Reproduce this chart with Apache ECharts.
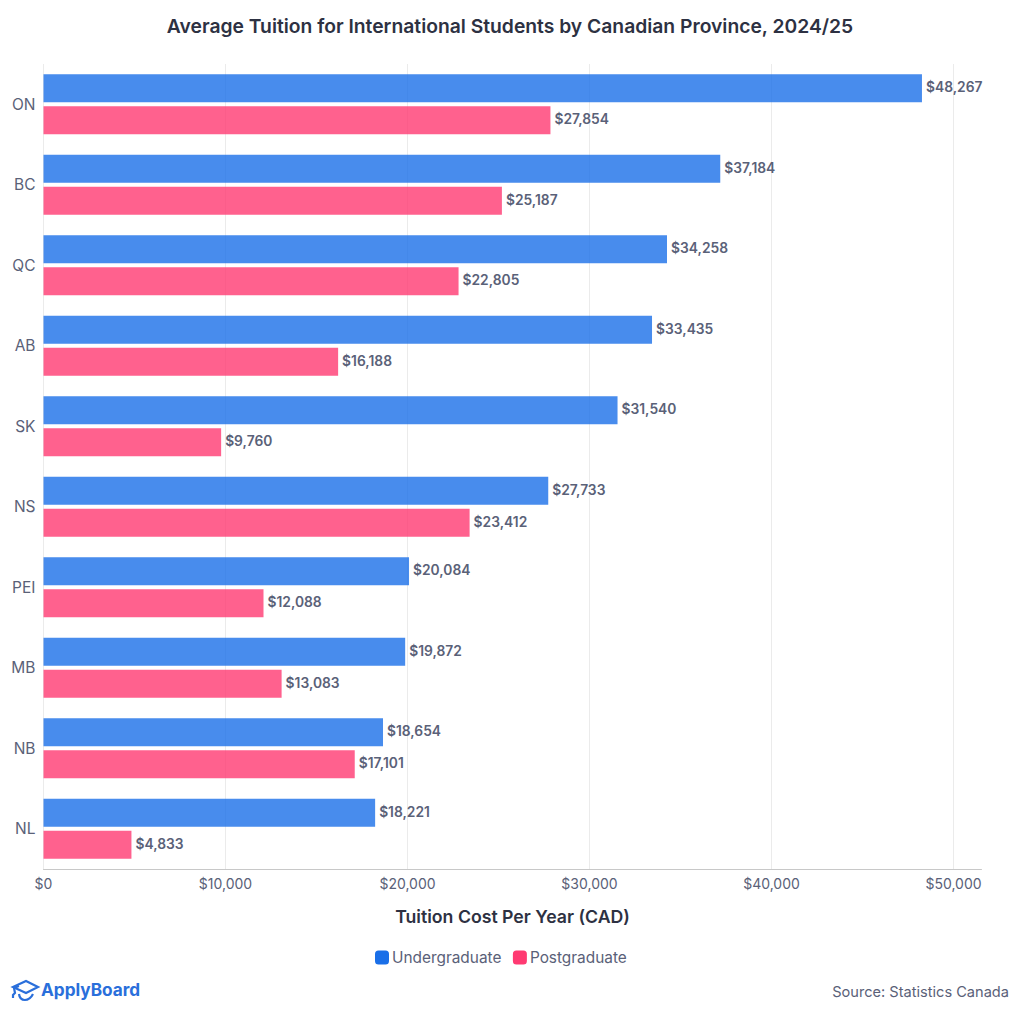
<!DOCTYPE html>
<html><head><meta charset="utf-8">
<style>html,body{margin:0;padding:0;background:#fff}#c{width:1020px;height:1014px}</style>
<script src="https://cdn.jsdelivr.net/npm/echarts@6/dist/echarts.min.js"></script>
</head><body><div id="c"></div>
<script>
const categories = ['ON','BC','QC','AB','SK','NS','PEI','MB','NB','NL'];
const undergraduate = [48267,37184,34258,33435,31540,27733,20084,19872,18654,18221];
const postgraduate = [27854,25187,22805,16188,9760,23412,12088,13083,17101,4833];
const FONT = 'Inter, "Open Sans", sans-serif';
const money = v => '$' + Number(v).toLocaleString('en-US');
const chart = echarts.init(document.getElementById('c'), null, {renderer:'svg'});
const label = {show:true, position:'right', distance:4, offset:[0,-1], fontFamily:FONT, fontSize:13.8, fontWeight:600, color:'#5a6178', formatter:p=>money(p.value)};
const logoStroke = {fill:'none', stroke:'#2a6fdb', lineWidth:2.2};
chart.setOption({
  animation:false,
  backgroundColor:'#fff',
  title:{text:'Average Tuition for International Students by Canadian Province, 2024/25', left:'center', top:11,
    textStyle:{fontFamily:FONT, fontSize:19.3, fontWeight:600, color:'#2d3142'}},
  grid:{left:43.5, right:38.5, top:64, bottom:145, containLabel:false},
  legend:{left:370, bottom:44, itemWidth:14, itemHeight:14, itemGap:11.5, icon:'roundRect',
    textStyle:{fontFamily:FONT, fontSize:15.4, color:'#5a6178', padding:[0,0,0,-2]},
    data:[{name:'Undergraduate', itemStyle:{color:'#1a6fe8'}},{name:'Postgraduate', itemStyle:{color:'#ff3a72'}}]},
  xAxis:{type:'value', min:0, max:51538, interval:10000,
    name:'Tuition Cost Per Year (CAD)', nameLocation:'middle', nameGap:38,
    nameTextStyle:{fontFamily:FONT, fontSize:17.7, fontWeight:600, color:'#2d3142'},
    axisLine:{show:true,lineStyle:{color:'#c8c8c8'}}, axisTick:{show:false},
    axisLabel:{fontFamily:FONT, fontSize:14, color:'#5a6178', margin:7, formatter:v=>money(v), showMaxLabel:false},
    splitLine:{show:true, showMaxLine:false, lineStyle:{color:'#ebebeb'}}},
  yAxis:{type:'category', inverse:true, data:categories,
    axisLine:{show:false}, axisTick:{show:false},
    axisLabel:{fontFamily:FONT, fontSize:15.5, color:'#5a6178', margin:8, padding:[0,0,3,0]}},
  series:[
    {name:'Undergraduate', type:'bar', data:undergraduate, barWidth:28, barGap:'14.3%',
     itemStyle:{color:'rgba(26,111,232,0.8)'}, label},
    {name:'Postgraduate', type:'bar', data:postgraduate, barWidth:28,
     itemStyle:{color:'rgba(255,58,114,0.8)'}, label}
  ],
  graphic:[
    {type:'polygon', shape:{points:[[13,987],[26,981],[38,987],[26,993]]}, style:logoStroke},
    {type:'polyline', shape:{points:[[19,986],[14,988],[15,993],[13,995],[13,998]]}, style:logoStroke},
    {type:'bezierCurve', shape:{x1:19,y1:994,cpx1:20,cpy1:1002,cpx2:29,cpy2:1002,x2:33,y2:994}, style:logoStroke},
    {type:'text', left:41, top:981, style:{text:'ApplyBoard', fontFamily:FONT, fontSize:17.2, fontWeight:700, fill:'#2a6fdb'}},
    {type:'text', right:11, top:984, style:{text:'Source: Statistics Canada', fontFamily:FONT, fontSize:14.6, fill:'#5a6178'}}
  ]
});
</script></body></html>
